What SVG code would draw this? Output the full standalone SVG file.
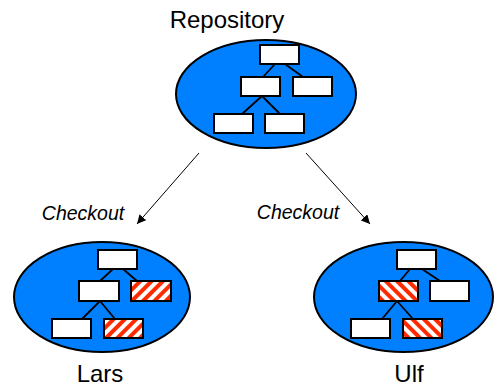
<svg xmlns="http://www.w3.org/2000/svg" width="494" height="387" viewBox="0 0 494 387">
  <style>
    .pool { fill: #0080ff; stroke: #000; stroke-width: 2; }
    .item { fill: #fff; stroke: #000; stroke-width: 2; }
    .chg-a { fill: url(#hatchA); stroke: #000; stroke-width: 2; }
    .chg-b { fill: url(#hatchB); stroke: #000; stroke-width: 2; }
    .tree { stroke: #000; stroke-width: 1.8; fill: none; }
    .flow { stroke: #000; stroke-width: 1; fill: none; marker-end: url(#arrow); }
    .title { font-family: "Liberation Sans", Arial, sans-serif; font-size: 24px; fill: #000; text-anchor: middle; }
    .lbl { font-family: "Liberation Sans", Arial, sans-serif; font-size: 19.5px; font-style: italic; fill: #000; text-anchor: middle; }
  </style>
  <defs>
    <pattern id="hatchA" width="8" height="8" patternUnits="userSpaceOnUse" patternTransform="rotate(45)">
      <rect width="8" height="8" fill="#fff"/>
      <rect width="4" height="8" fill="#ff2a00"/>
    </pattern>
    <pattern id="hatchB" width="8" height="8" patternUnits="userSpaceOnUse" patternTransform="rotate(-45)">
      <rect width="8" height="8" fill="#fff"/>
      <rect width="4" height="8" fill="#ff2a00"/>
    </pattern>
    <marker id="arrow" viewBox="0 0 10 10" refX="10" refY="5" markerWidth="9" markerHeight="9" markerUnits="userSpaceOnUse" orient="auto">
      <path d="M0,0 L10,5 L0,10 z" fill="#000"/>
    </marker>
  </defs>

  <!-- central repository -->
  <g id="repository">
    <ellipse class="pool" cx="266" cy="94" rx="90" ry="54"/>
    <path class="tree" d="M275,64 L263,77 M285,64 L303,77 M262,96 L242,114 M262,96 L280,114"/>
    <rect class="item" x="260" y="45" width="39" height="19"/>
    <rect class="item" x="241" y="77" width="39" height="19"/>
    <rect class="item" x="293" y="77" width="39" height="19"/>
    <rect class="item" x="214" y="114" width="39" height="19"/>
    <rect class="item" x="265" y="114" width="39" height="19"/>
    <text class="title" x="227" y="28">Repository</text>
  </g>

  <!-- working copy: Lars -->
  <g id="lars">
    <ellipse class="pool" cx="102" cy="297" rx="88" ry="55"/>
    <path class="tree" d="M113,269 L100,281 M123,269 L137,281 M100,301 L82,319 M100,301 L115,319"/>
    <rect class="item" x="98" y="250" width="39" height="19"/>
    <rect class="item" x="79" y="281" width="40" height="20"/>
    <rect class="chg-a" x="131" y="281" width="40" height="20"/>
    <rect class="item" x="52" y="319" width="39" height="19"/>
    <rect class="chg-a" x="104" y="319" width="39" height="19"/>
    <text class="title" x="100" y="382">Lars</text>
  </g>

  <!-- working copy: Ulf -->
  <g id="ulf">
    <ellipse class="pool" cx="403.5" cy="297" rx="89.5" ry="55"/>
    <path class="tree" d="M410,269 L400,281 M422,269 L440,281 M397,301 L382,319 M397,301 L413,319"/>
    <rect class="item" x="397" y="250" width="39" height="19"/>
    <rect class="chg-b" x="379" y="281" width="39" height="20"/>
    <rect class="item" x="430" y="281" width="39" height="20"/>
    <rect class="item" x="351" y="319" width="39" height="19"/>
    <rect class="chg-b" x="403" y="319" width="39" height="19"/>
    <text class="title" x="409" y="382">Ulf</text>
  </g>

  <!-- checkout connectors -->
  <g id="connectors">
    <line class="flow" x1="199" y1="153" x2="137" y2="224"/>
    <line class="flow" x1="306" y1="153" x2="370" y2="224"/>
    <text class="lbl" x="83" y="220">Checkout</text>
    <text class="lbl" x="298" y="219">Checkout</text>
  </g>
</svg>
